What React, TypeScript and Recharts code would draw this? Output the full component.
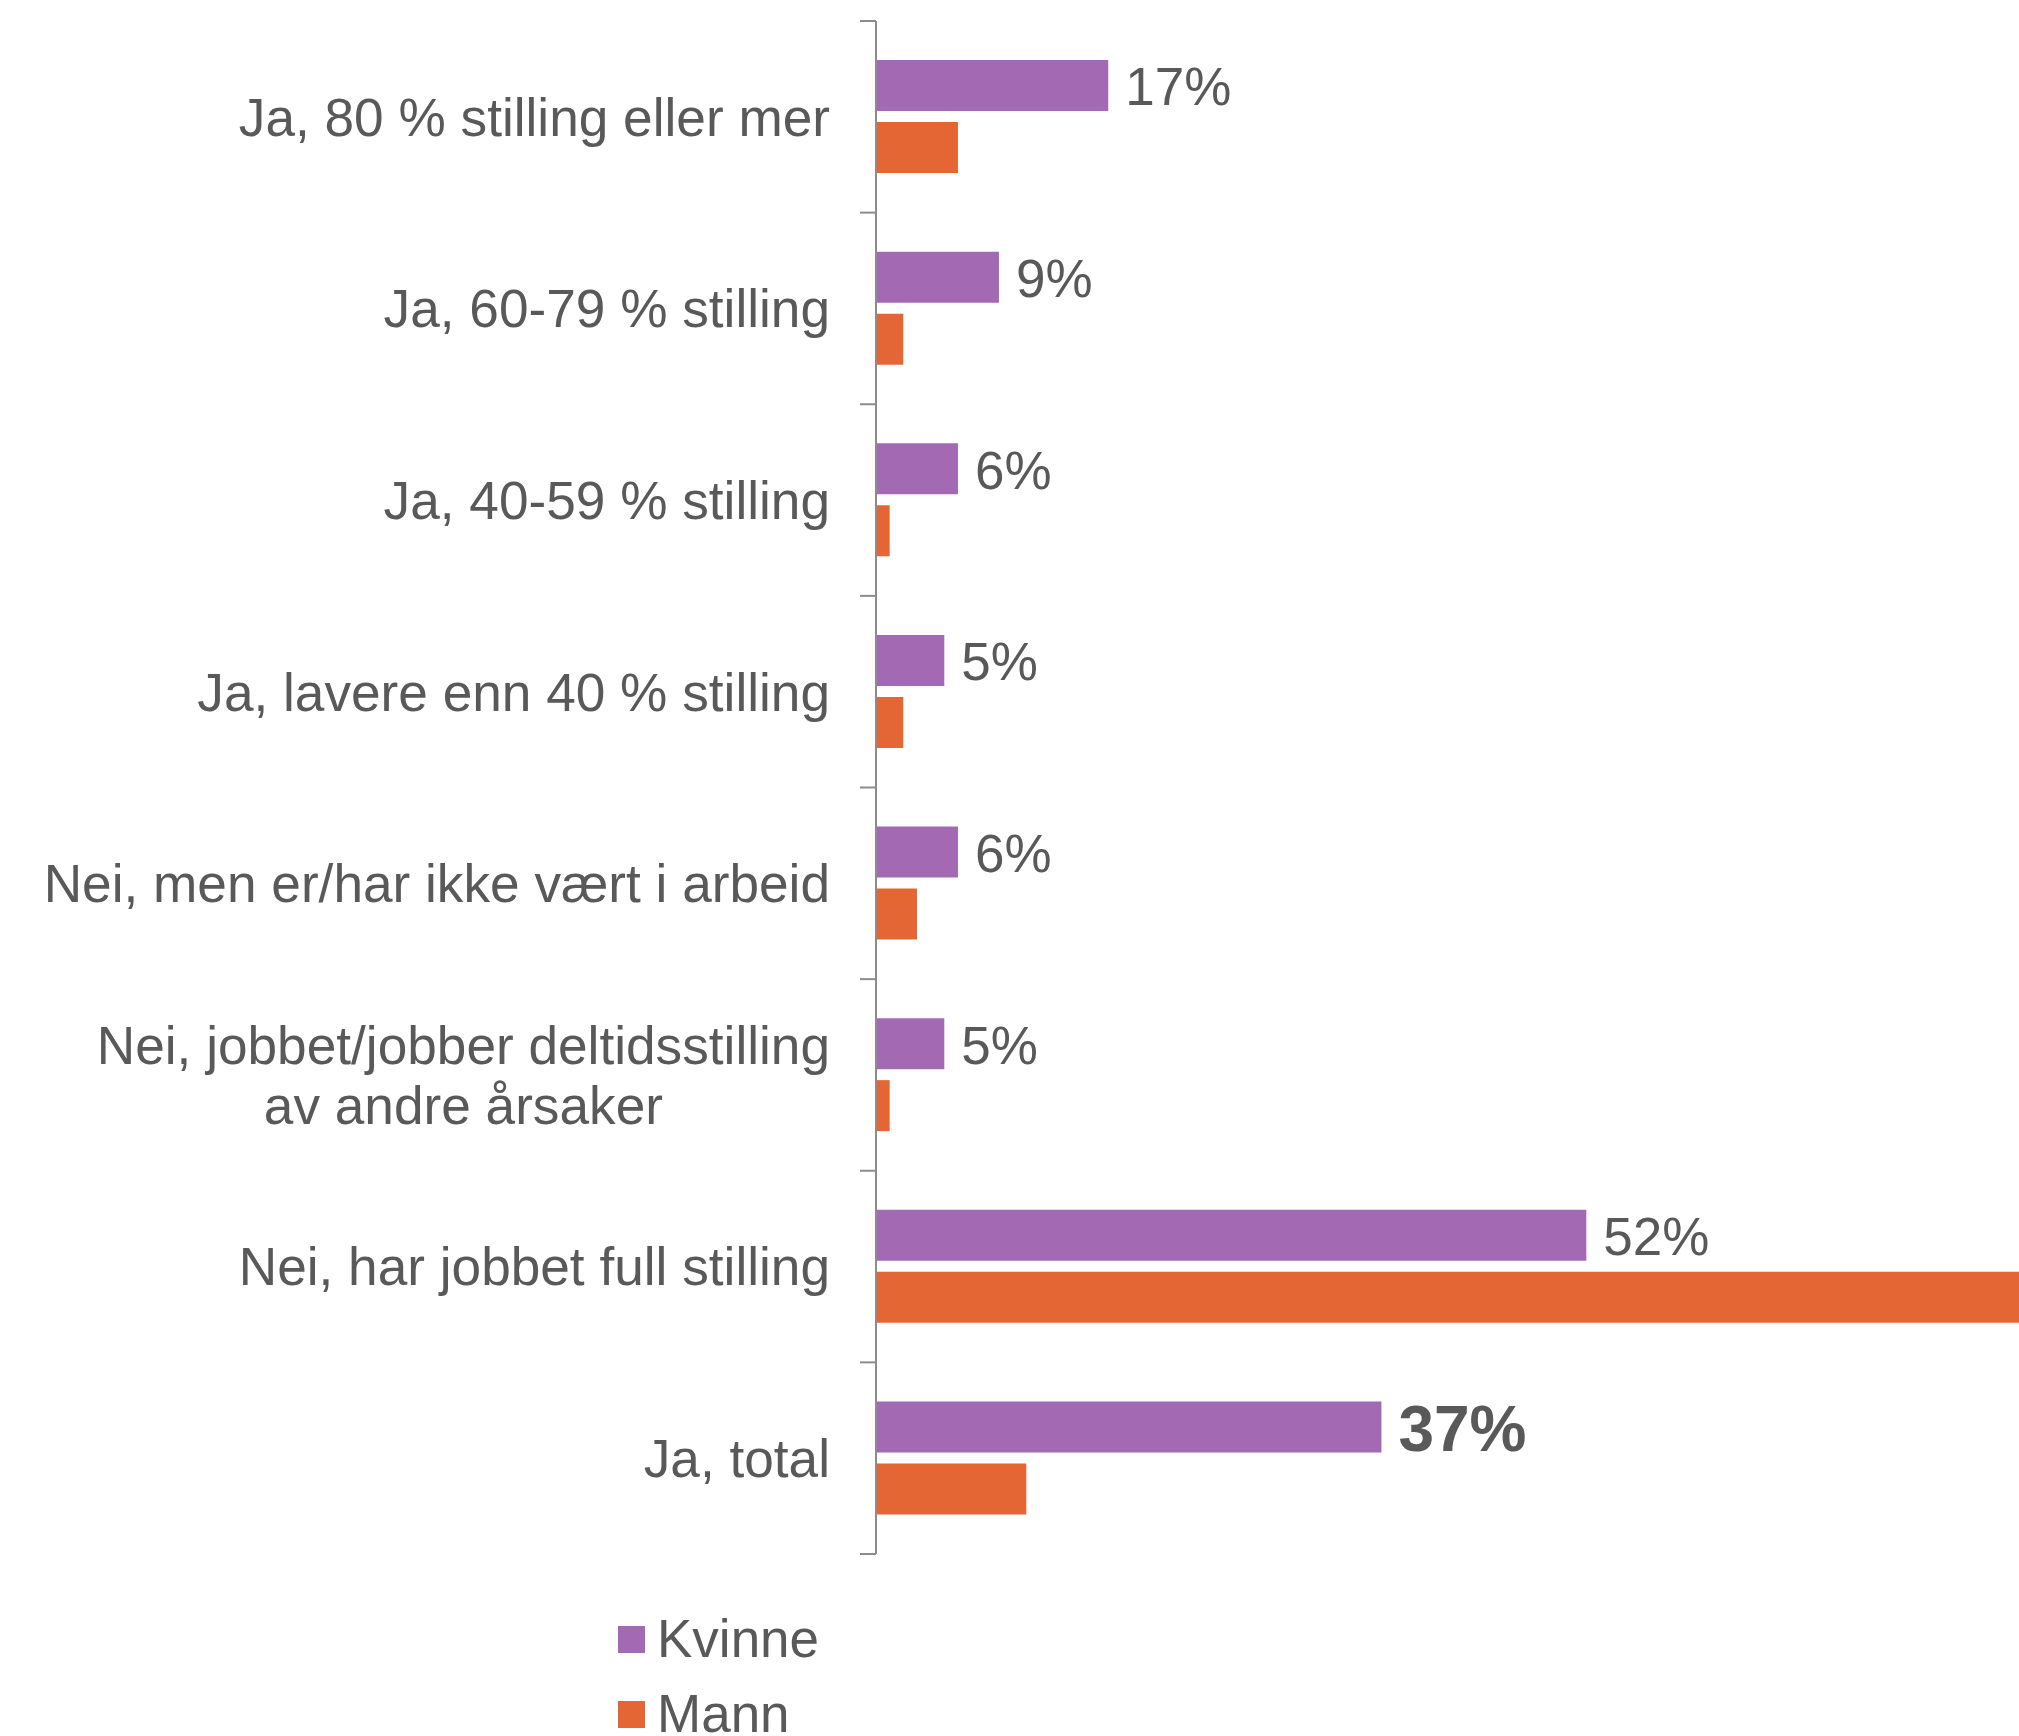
import React from 'react';
import { BarChart, Bar, XAxis, YAxis, LabelList } from 'recharts';

// ---------- data ----------
const categories: string[] = [
  'Ja, 80 % stilling eller mer',
  'Ja, 60-79 % stilling',
  'Ja, 40-59 % stilling',
  'Ja, lavere enn 40 % stilling',
  'Nei, men er/har ikke vært i arbeid',
  'Nei, jobbet/jobber deltidsstilling\nav andre årsaker',
  'Nei, har jobbet full stilling',
  'Ja, total',
];
const kvinneValues: number[] = [17, 9, 6, 5, 6, 5, 52, 37];
const mannValues: number[] = [6, 2, 1, 2, 3, 1, 85, 11];
const seriesNames: string[] = ['Kvinne', 'Mann'];
const seriesColors: string[] = ['#A369B3', '#E46634'];

const data = categories.map((name, i) => ({
  name,
  Kvinne: kvinneValues[i],
  Mann: mannValues[i],
}));

// ---------- styles ----------
const FONT = '"Liberation Sans", Arial, Helvetica, sans-serif';
const TEXT = '#595959';
const AXIS = '#8C8C8C';
const FS = 53.2;
const FS_VAL = 53;
const FS_TOTAL = 64;

const PAGE_W = 2019;
const PAGE_H = 1736;
const AXIS_X = 876;
const PLOT_TOP = 21;
const PLOT_BOTTOM = 1554;
const PLOT_W = 1366; // 0..100 %
const CHART_W = AXIS_X + PLOT_W;
const BAND = (PLOT_BOTTOM - PLOT_TOP) / categories.length;
const TICK_LEN = 16;
const LABEL_X = 830;
const LINE_H = 60.5;

let ctx: CanvasRenderingContext2D | null = null;
function measure(text: string, font: string): number {
  if (!ctx) ctx = document.createElement('canvas').getContext('2d');
  if (!ctx) return text.length * FS * 0.5;
  ctx.font = font;
  return ctx.measureText(text).width;
}

const CategoryTick = (props: any) => {
  const { y, payload, index } = props;
  const half = payload && typeof payload.offset === 'number' && payload.offset > 0 ? payload.offset : BAND / 2;
  const lines = String(payload.value).split('\n');
  const isLast = index === categories.length - 1;
  const tickTop = y - half;
  const tickBottom = y + half;
  let texts: React.ReactNode;
  if (lines.length === 1) {
    texts = (
      <text x={LABEL_X} y={y} dy="0.355em" textAnchor="end" fill={TEXT} fontSize={FS} fontFamily={FONT}>
        {lines[0]}
      </text>
    );
  } else {
    const w1 = measure(lines[0], `${FS}px "Liberation Sans", Arial, sans-serif`);
    const cx = LABEL_X - w1 / 2;
    const startY = y - ((lines.length - 1) * LINE_H) / 2;
    texts = lines.map((ln, i) => (
      <text
        key={i}
        x={i === 0 ? LABEL_X : cx}
        y={startY + i * LINE_H}
        dy="0.355em"
        textAnchor={i === 0 ? 'end' : 'middle'}
        fill={TEXT}
        fontSize={FS}
        fontFamily={FONT}
      >
        {ln}
      </text>
    ));
  }
  return (
    <g>
      <line x1={AXIS_X - TICK_LEN} x2={AXIS_X} y1={tickTop} y2={tickTop} stroke={AXIS} strokeWidth={2} />
      {isLast && (
        <line x1={AXIS_X - TICK_LEN} x2={AXIS_X} y1={tickBottom} y2={tickBottom} stroke={AXIS} strokeWidth={2} />
      )}
      {texts}
    </g>
  );
};

const ValueLabel = (props: any) => {
  const { x, y, width, height, value, index } = props;
  const isTotal = index === categories.length - 1;
  return (
    <text
      x={Number(x) + Number(width) + 17}
      y={Number(y) + Number(height) / 2}
      dy="0.375em"
      textAnchor="start"
      fill={TEXT}
      fontSize={isTotal ? FS_TOTAL : FS_VAL}
      fontWeight={isTotal ? 700 : 400}
      fontFamily={FONT}
    >
      {`${value}%`}
    </text>
  );
};

export default function App() {
  return (
    <div
      style={{
        position: 'absolute',
        left: 0,
        top: 0,
        width: PAGE_W,
        height: PAGE_H,
        overflow: 'hidden',
        background: '#ffffff',
        fontFamily: FONT,
      }}
    >
      <BarChart
        width={CHART_W}
        height={PAGE_H}
        data={data}
        layout="vertical"
        margin={{ top: PLOT_TOP, right: 0, bottom: PAGE_H - PLOT_BOTTOM, left: 0 }}
        barCategoryGap={39}
        barGap={11}
      >
        <XAxis type="number" domain={[0, 100]} hide />
        <YAxis
          type="category"
          dataKey="name"
          width={AXIS_X}
          axisLine={{ stroke: AXIS, strokeWidth: 2 }}
          tickLine={false}
          tickSize={TICK_LEN}
          tickMargin={30}
          interval={0}
          tick={<CategoryTick />}
        />
        <Bar dataKey="Kvinne" name={seriesNames[0]} fill={seriesColors[0]} isAnimationActive={false}>
          <LabelList dataKey="Kvinne" content={<ValueLabel />} />
        </Bar>
        <Bar dataKey="Mann" name={seriesNames[1]} fill={seriesColors[1]} isAnimationActive={false} />
      </BarChart>
      <svg
        width={400}
        height={136}
        style={{ position: 'absolute', left: 600, top: 1598 }}
      >
        {seriesNames.map((n, i) => (
          <g key={n}>
            <rect x={18} y={28 + i * 75} width={27} height={27} fill={seriesColors[i]} />
            <text x={57} y={59 + i * 75} fill={TEXT} fontSize={FS_VAL} fontFamily={FONT}>
              {n}
            </text>
          </g>
        ))}
      </svg>
    </div>
  );
}
